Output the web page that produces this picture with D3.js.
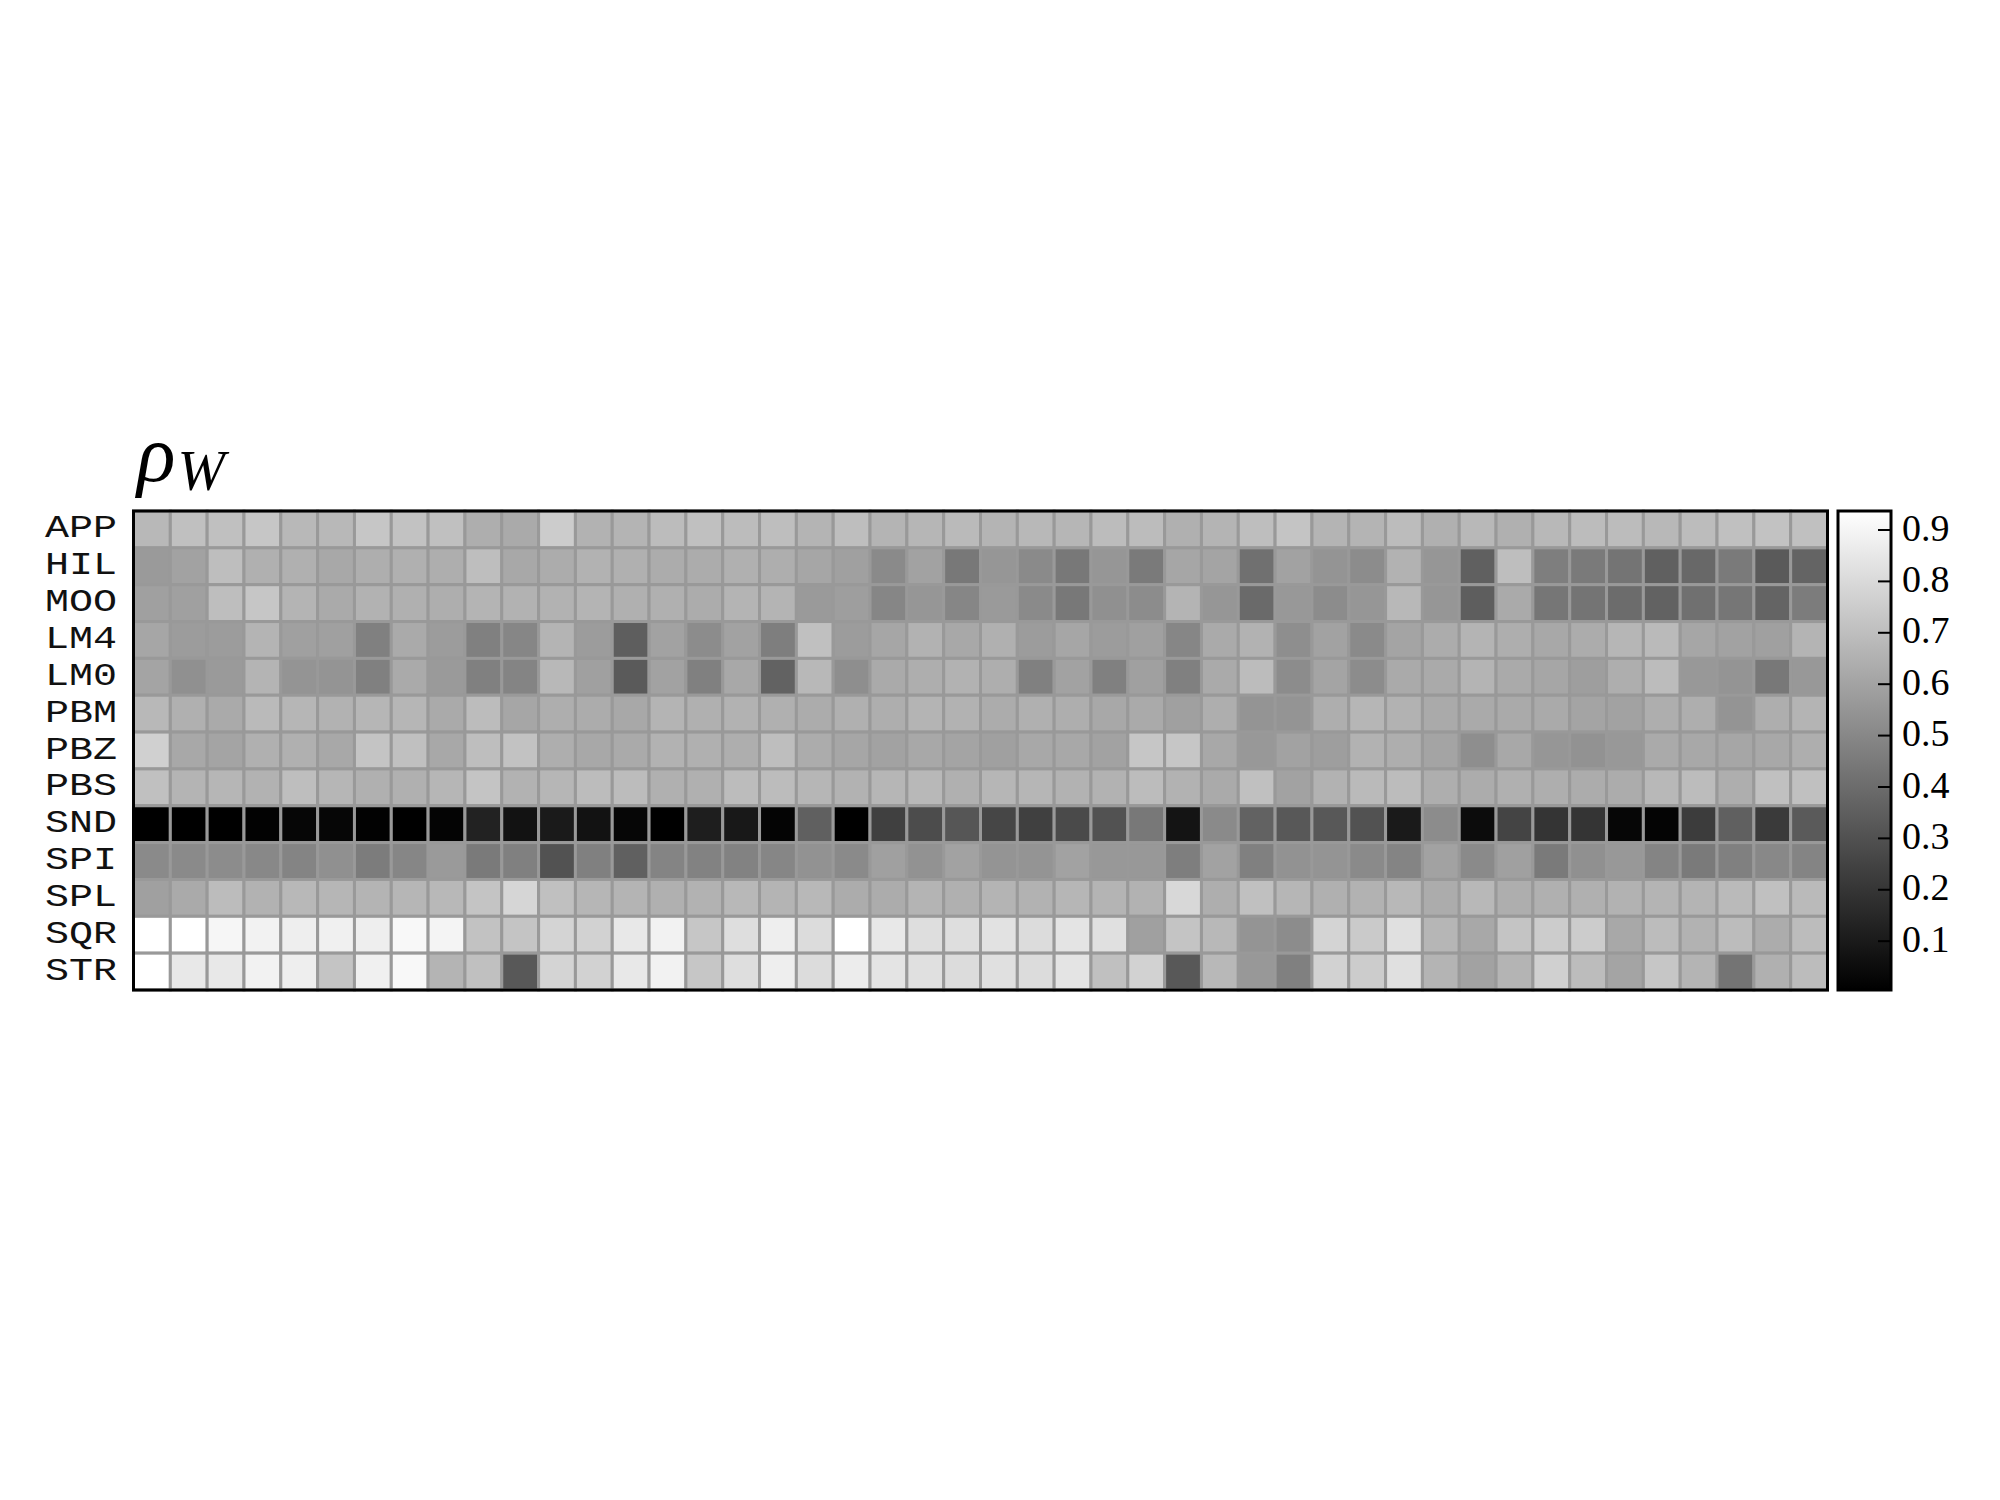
<!DOCTYPE html>
<html><head><meta charset="utf-8">
<script src="https://cdn.jsdelivr.net/npm/d3@7"></script>
<style>html,body{margin:0;padding:0;background:#fff;}</style>
</head><body>
<script>
const rowLabels = ["APP","HIL","MOO","LM4","LM0","PBM","PBZ","PBS","SND","SPI","SPL","SQR","STR"];
const nCols = 46;
const colorbarTicks = [0.1,0.2,0.3,0.4,0.5,0.6,0.7,0.8,0.9];
const vmin = 0.004, vmax = 0.936;

const APP = [.677,.706,.706,.728,.677,.677,.728,.713,.706,.640,.625,.750,.655,.662,.691,.706,.691,.699,.662,.699,.662,.669,.684,.662,.677,.669,.691,.691,.647,.662,.699,.720,.662,.662,.691,.647,.677,.647,.677,.691,.691,.677,.691,.706,.713,.706];
const HIL = [.567,.596,.699,.647,.647,.618,.640,.647,.640,.699,.618,.633,.655,.647,.633,.633,.647,.640,.611,.589,.508,.596,.443,.552,.508,.443,.552,.450,.611,.603,.413,.596,.545,.516,.655,.552,.355,.699,.465,.450,.428,.355,.384,.450,.333,.370];
const MOO = [.589,.589,.699,.728,.662,.625,.655,.647,.640,.662,.655,.655,.662,.647,.647,.633,.662,.662,.567,.581,.494,.552,.494,.567,.508,.443,.530,.516,.662,.552,.391,.560,.516,.552,.677,.552,.348,.625,.435,.428,.399,.362,.413,.435,.370,.457];
const LM4 = [.611,.574,.574,.662,.589,.589,.472,.625,.574,.472,.494,.662,.574,.348,.596,.516,.596,.465,.706,.574,.611,.655,.618,.647,.574,.611,.574,.589,.494,.625,.655,.523,.596,.508,.603,.633,.662,.640,.618,.633,.669,.684,.611,.596,.589,.662];
const LM0 = [.603,.530,.567,.662,.545,.545,.472,.625,.567,.472,.486,.677,.589,.333,.596,.472,.618,.362,.677,.523,.625,.640,.655,.640,.472,.596,.472,.589,.472,.625,.691,.516,.603,.516,.625,.625,.662,.625,.611,.581,.640,.691,.560,.545,.443,.560];
const PBM = [.677,.647,.625,.684,.669,.655,.669,.669,.625,.691,.611,.640,.633,.618,.662,.647,.655,.647,.633,.647,.640,.662,.655,.633,.647,.640,.618,.625,.589,.640,.545,.545,.640,.669,.655,.625,.625,.625,.625,.603,.596,.640,.640,.545,.640,.662];
const PBZ = [.764,.618,.603,.647,.647,.618,.720,.706,.618,.699,.713,.640,.618,.625,.655,.647,.640,.699,.633,.611,.596,.618,.603,.589,.618,.618,.596,.728,.728,.618,.560,.596,.581,.655,.640,.603,.523,.618,.552,.538,.560,.625,.618,.611,.618,.640];
const PBS = [.706,.662,.669,.655,.699,.669,.647,.647,.669,.720,.655,.669,.691,.691,.647,.647,.691,.691,.669,.655,.669,.677,.647,.669,.669,.655,.655,.691,.655,.625,.706,.596,.655,.684,.691,.640,.633,.647,.640,.633,.633,.677,.691,.640,.706,.706];
const SND = [.004,.004,.004,.011,.026,.026,.011,.004,.019,.128,.070,.099,.070,.026,.004,.114,.092,.019,.355,.004,.238,.282,.318,.260,.238,.274,.304,.443,.077,.508,.362,.326,.326,.304,.099,.516,.048,.253,.194,.194,.026,.019,.223,.355,.216,.333];
const SPI = [.508,.508,.516,.501,.486,.530,.457,.494,.567,.450,.472,.304,.472,.355,.486,.479,.479,.494,.538,.508,.589,.538,.596,.545,.545,.596,.560,.560,.465,.596,.472,.538,.545,.508,.486,.596,.508,.589,.450,.530,.560,.486,.450,.472,.501,.486];
const SPL = [.589,.625,.691,.655,.677,.669,.662,.669,.677,.720,.786,.706,.669,.662,.647,.655,.677,.662,.677,.633,.633,.662,.647,.662,.655,.669,.662,.655,.794,.640,.706,.669,.647,.655,.677,.633,.677,.640,.647,.647,.655,.662,.662,.684,.706,.684];
const SQR = [.936,.936,.903,.888,.874,.881,.874,.910,.896,.713,.720,.779,.772,.852,.888,.728,.815,.874,.808,.936,.852,.815,.815,.830,.808,.837,.823,.589,.720,.677,.545,.516,.779,.742,.823,.669,.618,.720,.750,.750,.618,.691,.655,.691,.633,.691];
const STR = [.936,.852,.852,.888,.874,.720,.881,.910,.662,.706,.326,.779,.772,.852,.888,.728,.815,.874,.808,.866,.837,.823,.808,.823,.808,.837,.706,.772,.326,.677,.560,.472,.772,.750,.823,.662,.596,.662,.764,.691,.603,.728,.662,.428,.647,.691];

const matrix = [APP,HIL,MOO,LM4,LM0,PBM,PBZ,PBS,SND,SPI,SPL,SQR,STR];

const SVG_W = 2000, SVG_H = 1500;
const plotL = 133.5, plotR = 1827.5, plotT = 511, plotB = 990;
const svg = d3.select("body").append("svg").attr("width", SVG_W).attr("height", SVG_H)
  .style("font-family", "'Liberation Serif', serif");

const xScale = d3.scaleBand().domain(d3.range(nCols)).range([plotL, plotR]).padding(0);
const yScale = d3.scaleBand().domain(rowLabels).range([plotT, plotB]).padding(0);
const color = d3.scaleLinear().domain([vmin, vmax]).range(["#000000", "#ffffff"]).clamp(true);

const cells = [];
matrix.forEach((row, r) => row.forEach((v, c) => cells.push({r: rowLabels[r], c, v})));

svg.append("g").selectAll("rect").data(cells).join("rect")
  .attr("x", d => xScale(d.c)).attr("y", d => yScale(d.r))
  .attr("width", xScale.bandwidth()).attr("height", yScale.bandwidth())
  .attr("fill", d => color(d.v))
  .attr("stroke", "#999999").attr("stroke-width", 3);

svg.append("rect").attr("x", plotL).attr("y", plotT)
  .attr("width", plotR - plotL).attr("height", plotB - plotT)
  .attr("fill", "none").attr("stroke", "#000").attr("stroke-width", 3);

// row labels
svg.append("g").selectAll("text").data(rowLabels).join("text")
  .attr("x", 45).attr("y", d => yScale(d) + yScale.bandwidth() / 2 + 8)
  .attr("font-family", "'Liberation Mono', monospace")
  .attr("font-size", 32)
  .attr("textLength", 72).attr("lengthAdjust", "spacingAndGlyphs")
  .attr("fill", "#111")
  .text(d => d);

// title rho_W
const title = svg.append("text").attr("x", 137).attr("y", 481)
  .attr("font-family", "'Liberation Serif', serif").attr("font-style", "italic").attr("fill", "#000");
title.append("tspan").attr("font-size", 80).text("ρ");
title.append("tspan").attr("font-size", 57).attr("dy", 9).attr("dx", 2).text("W");

// colorbar
const cbx0 = 1838, cbx1 = 1891;
const cbScale = d3.scaleLinear().domain([vmin, vmax]).range([plotB, plotT]);
const defs = svg.append("defs");
const grad = defs.append("linearGradient").attr("id", "cbgrad")
  .attr("x1", 0).attr("y1", 1).attr("x2", 0).attr("y2", 0);
grad.append("stop").attr("offset", "0%").attr("stop-color", "#000");
grad.append("stop").attr("offset", "100%").attr("stop-color", "#fff");
svg.append("rect").attr("x", cbx0).attr("y", plotT).attr("width", cbx1 - cbx0).attr("height", plotB - plotT)
  .attr("fill", "url(#cbgrad)").attr("stroke", "#000").attr("stroke-width", 3);

const axis = d3.axisLeft(cbScale).tickValues(colorbarTicks).tickSize(13).tickFormat(d3.format(".1f"));
const ag = svg.append("g").attr("transform", `translate(${cbx1},0)`).call(axis);
ag.select(".domain").remove();
ag.selectAll(".tick line").attr("stroke", "#000").attr("stroke-width", 2);
ag.selectAll(".tick text")
  .attr("x", 11).attr("text-anchor", "start").attr("dy", "0.28em")
  .attr("font-family", "'Liberation Serif', serif").attr("font-size", 38).attr("fill", "#000");
</script>
</body></html>
